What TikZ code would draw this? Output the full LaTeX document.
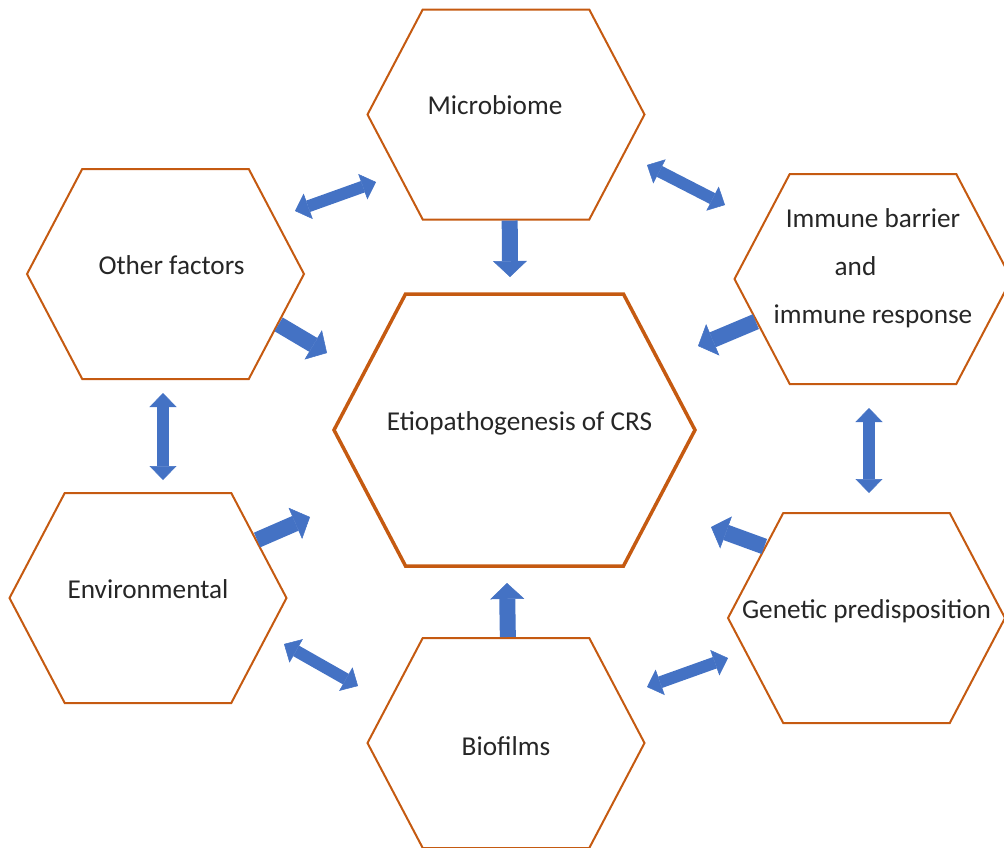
\documentclass[tikz,border=0pt]{standalone}
\usepackage{fontspec}
\setmainfont{Carlito}
\usetikzlibrary{arrows.meta,shapes.symbols}

\definecolor{hexline}{HTML}{C55A11}
\definecolor{arrowfill}{HTML}{4472C4}

\begin{document}
\begin{tikzpicture}[
  x=0.2mm, y=-0.2mm,
  hex/.style   = {shape=signal, signal to=east and west, signal pointer angle=124.5,
                  draw=hexline, line width=0.4mm, inner sep=0pt,
                  minimum width=55.4mm, minimum height=42mm},
  core/.style  = {hex, line width=0.7mm, minimum width=72.2mm, minimum height=54.4mm},
  lbl/.style   = {inner sep=0pt, text height=1mm, text depth=1mm, text=black!85,
                  font=\fontsize{15.5}{18.6}\selectfont},
  fat/.style   = {arrowfill, line width=3.2mm,
                  -{Triangle[width=6.8mm,length=3.2mm,line width=0.1mm]}},
  twin/.style  = {arrowfill, line width=2.4mm,
                  {Triangle[width=5.4mm,length=2.8mm,line width=0.1mm]}-{Triangle[width=5.4mm,length=2.8mm,line width=0.1mm]}},
]
  \useasboundingbox (0,0) rectangle (1004,848);

  % the six causes round the centre
  \node[core, label={[lbl, xshift=1mm]center:Etiopathogenesis of CRS}] (crs) at (514.5,430) {};
  \node[hex, label={[lbl, xshift=-2.2mm]center:Microbiome}] (micro) at (506,114.5) {};
  \node[hex, label={[lbl, xshift=1.2mm]center:Other factors}] (other) at (165.5,274) {};
  \node[hex, label={[lbl, text height={}, text depth={}, align=center, yshift=2.2mm,
        font=\fontsize{15.5}{27.3}\selectfont]center:Immune barrier\\and\rule{7mm}{0pt}\\immune response}]
        (immune) at (873,279) {};
  \node[hex, label={[lbl]center:Environmental}] (env) at (148,598) {};
  \node[hex, label={[lbl]center:Genetic predisposition}] (genetic) at (866.5,618) {};
  \node[hex, label={[lbl, text height=5.8mm]center:Biofilms}] (bio) at (506,743) {};

  % free ends of the arrows
  \coordinate (tmicro) at (510,277);
  \coordinate (tbio) at (507,583);
  \coordinate (tother) at (327,353);
  \coordinate (timmune) at (698,346);
  \coordinate (tenv) at (310,517);
  \coordinate (tgenetic) at (711,527);

  \draw[fat] (micro.-88) -- (tmicro);
  \draw[fat] (bio.89) -- (tbio);
  \draw[fat] (other.-24) -- (tother);
  \draw[fat] (immune.200) -- (timmune);
  \draw[fat] (env.28) -- (tenv);
  \draw[fat] (genetic.145) -- (tgenetic);

  % two-way arrows between neighbours
  \coordinate (om1) at (295,211);  \coordinate (om2) at (376,182);
  \coordinate (mi1) at (647,165);  \coordinate (mi2) at (725,205);
  \coordinate (ig1) at (869,408);  \coordinate (ig2) at (869,493);
  \coordinate (oe1) at (163,393);  \coordinate (oe2) at (163,480);
  \coordinate (eb1) at (284,644);  \coordinate (eb2) at (358,686);
  \coordinate (bg1) at (647,687);  \coordinate (bg2) at (728,658);

  \draw[twin] (om1) -- (om2);
  \draw[twin] (mi1) -- (mi2);
  \draw[twin] (ig1) -- (ig2);
  \draw[twin] (oe1) -- (oe2);
  \draw[twin] (eb1) -- (eb2);
  \draw[twin] (bg1) -- (bg2);
\end{tikzpicture}
\end{document}
